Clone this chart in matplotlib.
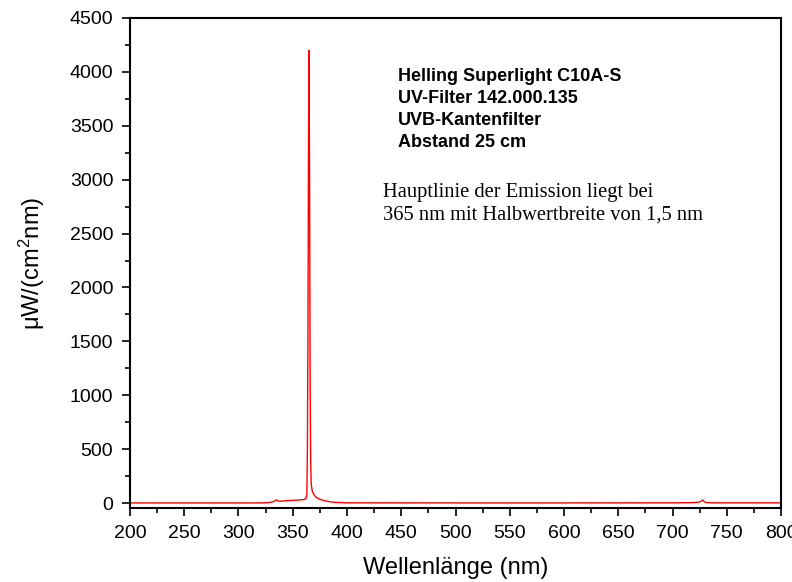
import matplotlib
matplotlib.use("Agg")
import matplotlib.pyplot as plt
from matplotlib.ticker import MultipleLocator

wavelength = [200, 250, 300, 320, 328, 332, 334, 335, 336, 338, 345, 355, 360, 362,
              363, 363.5, 364, 364.5, 365, 365.5, 366, 366.5, 367, 368, 370, 372,
              375, 380, 385, 390, 400, 500, 600, 700, 720, 725, 727, 728, 729, 731,
              735, 750, 800]
intensity = [1, 1, 1, 1, 4, 12, 22, 30, 20, 17, 22, 28, 32, 40,
             70, 500, 1500, 3300, 4200, 3000, 1200, 400, 180, 110, 70, 50,
             35, 20, 11, 6, 2, 1, 1, 2, 4, 10, 22, 28, 14, 5,
             2, 2, 2]

x_ticks = [200, 250, 300, 350, 400, 450, 500, 550, 600, 650, 700, 750, 800]
y_ticks = [0, 500, 1000, 1500, 2000, 2500, 3000, 3500, 4000, 4500]

info_bold = ["Helling Superlight C10A-S", "UV-Filter 142.000.135",
             "UVB-Kantenfilter", "Abstand 25 cm"]
info_serif = ["Hauptlinie der Emission liegt bei",
              "365 nm mit Halbwertbreite von 1,5 nm"]

plt.rcParams['font.family'] = ['Liberation Sans', 'DejaVu Sans']
plt.rcParams['mathtext.fontset'] = 'custom'
plt.rcParams['mathtext.rm'] = 'Liberation Sans'
plt.rcParams['mathtext.default'] = 'regular'

fig = plt.figure(figsize=(7.92, 5.82), dpi=100)
ax = fig.add_axes([130/792, 1 - 508/582, (781-130)/792, (508-18)/582])

ax.plot(wavelength, intensity, color='#ff0000', lw=1.0)

ax.set_xlim(200, 800)
ax.set_ylim(-46, 4500)
ax.set_xticks(x_ticks)
ax.set_yticks(y_ticks)
ax.xaxis.set_minor_locator(MultipleLocator(25))
ax.yaxis.set_minor_locator(MultipleLocator(250))
ax.tick_params(axis='both', which='major', direction='out', length=6, width=1.2,
               labelsize=14, top=False, right=False)
ax.tick_params(axis='x', which='major', pad=6)
ax.tick_params(axis='y', which='major', pad=6)
ax.tick_params(axis='both', which='minor', direction='out', length=3.5, width=1.2,
               top=False, right=False)
for s in ax.spines.values():
    s.set_linewidth(1.5)

ax.set_xlabel("Wellenlänge (nm)", fontsize=17, labelpad=11)
ax.set_ylabel("μW/(cm$^{2}$nm)", fontsize=17, labelpad=16)

for i, t in enumerate(info_bold):
    ax.text(0.412, 0.880 - i*0.0449, t, transform=ax.transAxes, fontsize=13,
            fontweight='bold', va='center', ha='left')
for i, t in enumerate(info_serif):
    ax.text(0.388, 0.643 - i*0.0449, t, transform=ax.transAxes, fontsize=14.8,
            family=['Liberation Serif', 'DejaVu Serif'], va='center', ha='left')

fig.savefig("out.png", dpi=100)
